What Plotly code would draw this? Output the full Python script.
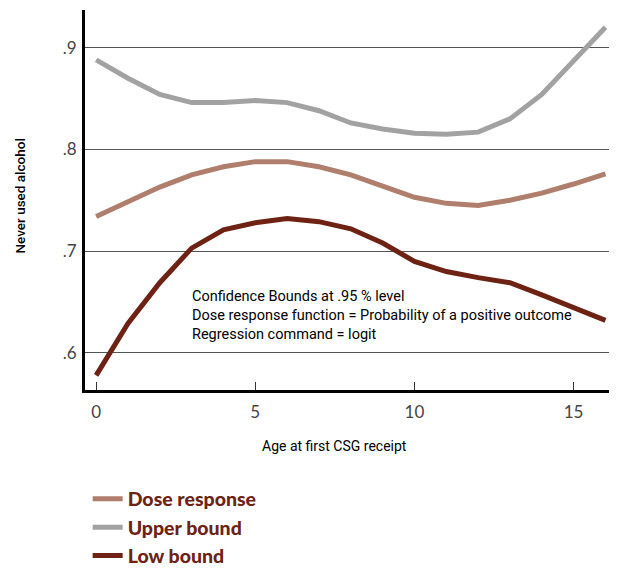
import plotly.graph_objects as go

ages = list(range(17))
dose_response = [.734, .749, .763, .775, .783, .788, .788, .783, .775, .764, .753, .747, .745, .750, .757, .766, .776]
upper_bound = [.888, .870, .854, .846, .846, .848, .846, .838, .826, .820, .816, .815, .817, .830, .854, .887, .920]
low_bound = [.578, .629, .669, .703, .721, .728, .732, .729, .722, .708, .690, .680, .674, .669, .657, .644, .632]

series_names = ["Dose response", "Upper bound", "Low bound"]
series_colors = ["#b07e6c", "#a2a2a2", "#6e2214"]

y_tickvals = [.6, .7, .8, .9]
y_ticktext = [".6", ".7", ".8", ".9"]
x_tickvals = [0, 5, 10, 15]
x_ticktext = ["0", "5", "10", "15"]

note_lines = [
    "Confidence Bounds at .95 % level",
    "Dose response function = Probability of a positive outcome",
    "Regression command = logit",
]

narrow = "Roboto, sans-serif"
tickfont = "Lato, Open Sans, sans-serif"

fig = go.Figure()
for name, ys, col in zip(series_names, [dose_response, upper_bound, low_bound], series_colors):
    fig.add_trace(go.Scatter(x=ages, y=ys, mode="lines", name=name,
                             line=dict(color=col, width=5)))

fig.update_layout(
    width=617, height=568,
    margin=dict(l=77, r=10, t=2, b=186, autoexpand=False),
    plot_bgcolor="white", paper_bgcolor="white",
    showlegend=True,
    legend=dict(x=0.005, y=-0.236, xanchor="left", yanchor="top",
                font=dict(family="Lato, Open Sans, sans-serif", size=19.5, color="#6e2214", weight=900),
                bgcolor="rgba(0,0,0,0)", tracegroupgap=0, itemwidth=30),
    xaxis=dict(range=[-0.35, 16.3], tickvals=x_tickvals, ticktext=x_ticktext,
               showgrid=False, zeroline=False, showline=True, linecolor="black", linewidth=3,
               ticks="inside", ticklen=8, tickcolor="#333", tickwidth=1,
               tickfont=dict(family=tickfont, size=17, color="#444"), ticklabelstandoff=5,
               automargin=False),
    yaxis=dict(range=[.5636, .937], tickvals=y_tickvals, ticktext=y_ticktext,
               showgrid=True, gridcolor="#555", gridwidth=1, zeroline=False,
               showline=True, linecolor="black", linewidth=3, ticks="",
               tickfont=dict(family=tickfont, size=17, color="#444"), ticklabelstandoff=2,
               automargin=False),
)

fig.add_annotation(xref="paper", yref="paper", x=0.198, y=0.275, xanchor="left", yanchor="top",
                   text="<br>".join(note_lines), showarrow=False, align="left",
                   font=dict(family=narrow, size=14.5, color="black"))
fig.add_annotation(xref="paper", yref="paper", x=0.47, y=-0.148, xanchor="center", yanchor="middle",
                   text="Age at first CSG receipt", showarrow=False,
                   font=dict(family=narrow, size=14, color="black"))
fig.add_annotation(xref="paper", yref="paper", x=-0.122, y=0.51, xanchor="center", yanchor="middle",
                   text="Never used alcohol", showarrow=False, textangle=-90,
                   font=dict(family=narrow, size=13.5, color="black", weight=500))

fig.write_html("out.html")
